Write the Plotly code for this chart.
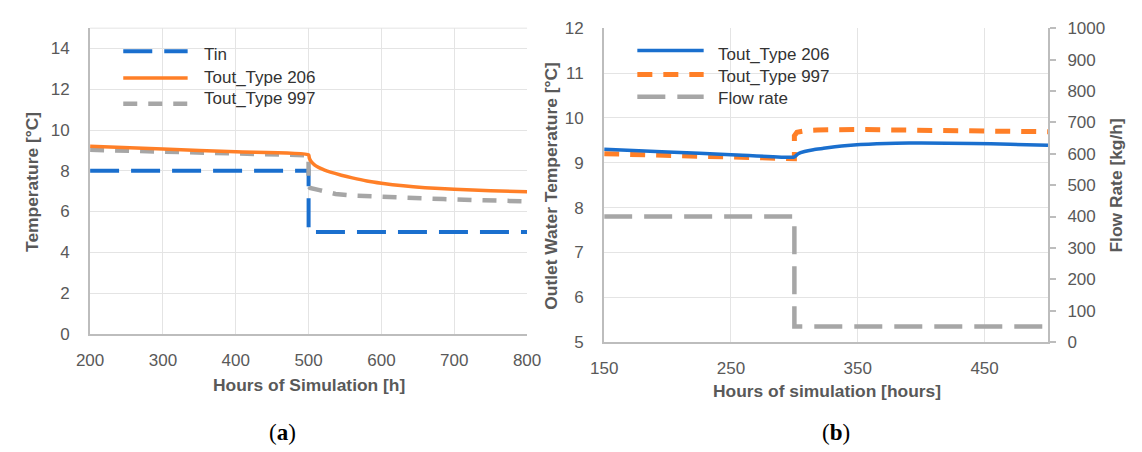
import plotly.graph_objects as go

W, H = 1142, 452

# ---------------- data (a) ----------------
a_tin_x = [200, 500, 500, 800]
a_tin_y = [8, 8, 5, 5]

a_206_x = [200, 300, 400, 500, 501, 503, 506, 510, 515, 522, 530, 545, 560, 580, 600, 630, 660, 700, 750, 800]
a_206_y = [9.2, 9.07, 8.93, 8.78, 8.62, 8.48, 8.36, 8.24, 8.14, 8.03, 7.93, 7.78, 7.65, 7.5, 7.39, 7.26, 7.17, 7.09, 7.02, 6.97]

a_997_x = [200, 300, 400, 500, 500, 502, 515, 525, 537, 560, 595, 640, 685, 740, 800]
a_997_y = [9.03, 8.94, 8.85, 8.76, 7.25, 7.16, 7.05, 6.95, 6.86, 6.78, 6.72, 6.66, 6.61, 6.55, 6.5]

# ---------------- data (b) ----------------
b_206_x = [150, 200, 250, 298, 300, 303, 308, 315, 323, 332, 342, 352, 365, 380, 400, 440, 470, 500]
b_206_y = [9.30, 9.24, 9.18, 9.12, 9.13, 9.2, 9.25, 9.29, 9.32, 9.355, 9.385, 9.405, 9.42, 9.435, 9.44, 9.43, 9.41, 9.39]

b_997_x = [150, 200, 250, 300, 300, 302, 310, 318, 350, 400, 470, 500]
b_997_y = [9.2, 9.16, 9.12, 9.09, 9.6, 9.68, 9.72, 9.73, 9.74, 9.73, 9.70, 9.69]

b_flow_x = [150, 300, 300, 500]
b_flow_y = [400, 400, 50, 50]

# ---------------- labels ----------------
a_legend = ["Tin", "Tout_Type 206", "Tout_Type 997"]
b_legend = ["Tout_Type 206", "Tout_Type 997", "Flow rate"]
a_xtitle = "Hours of Simulation [h]"
a_ytitle = "Temperature [°C]"
b_xtitle = "Hours of simulation [hours]"
b_ytitle = "Outlet Water Temperature [°C]"
b_y2title = "Flow Rate [kg/h]"

BLUE = "#1a6fce"
ORANGE = "#ff7f27"
GRAY = "#a6a6a6"
GRID = "#e4e4e4"
AXIS = "#bdbdbd"
TXT = "#595959"
FONT = "Liberation Sans, Arial, sans-serif"


def px(x):
    return x / W


def py(y):
    return 1 - y / H


fig = go.Figure()

a_styles = [
    dict(color=BLUE, width=4, dash="29px,12px"),
    dict(color=ORANGE, width=3.5, dash="solid"),
    dict(color=GRAY, width=4.5, dash="14px,11px"),
]
b_styles = [
    dict(color=BLUE, width=3.5, dash="solid"),
    dict(color=ORANGE, width=5, dash="15px,11px"),
    dict(color=GRAY, width=4.5, dash="28px,12px"),
]

fig.add_trace(go.Scatter(x=a_tin_x, y=a_tin_y, mode="lines", line=a_styles[0], xaxis="x", yaxis="y", name=a_legend[0]))
fig.add_trace(go.Scatter(x=a_997_x, y=a_997_y, mode="lines", line=a_styles[2], xaxis="x", yaxis="y", name=a_legend[2]))
fig.add_trace(go.Scatter(x=a_206_x, y=a_206_y, mode="lines", line=dict(**a_styles[1], shape="spline", smoothing=0.6),
                         xaxis="x", yaxis="y", name=a_legend[1]))

fig.add_trace(go.Scatter(x=b_flow_x, y=b_flow_y, mode="lines", line=b_styles[2], xaxis="x2", yaxis="y3", name=b_legend[2]))
fig.add_trace(go.Scatter(x=b_997_x, y=b_997_y, mode="lines", line=b_styles[1], xaxis="x2", yaxis="y2", name=b_legend[1]))
fig.add_trace(go.Scatter(x=b_206_x, y=b_206_y, mode="lines", line=dict(**b_styles[0], shape="spline", smoothing=0.6),
                         xaxis="x2", yaxis="y2", name=b_legend[0]))

tickfont = dict(family=FONT, size=17, color=TXT)
common = dict(showgrid=True, gridcolor=GRID, gridwidth=1, showline=True, linecolor=AXIS, linewidth=2,
              zeroline=False, ticks="", tickfont=tickfont, fixedrange=True)

fig.update_layout(
    width=W, height=H, margin=dict(l=0, r=0, t=0, b=0),
    paper_bgcolor="white", plot_bgcolor="white", showlegend=False,
    xaxis=dict(domain=[px(78), px(526)], range=[200, 800], tick0=200, dtick=100, anchor="y",
               ticklabelstandoff=10, **common),
    yaxis=dict(domain=[py(339), py(20)], range=[0, 15], tick0=0, dtick=2, anchor="x",
               ticklabelstandoff=15, **common),
    xaxis2=dict(domain=[px(605), px(1060)], range=[150, 500], tick0=150, dtick=100, anchor="y2",
                ticklabelstandoff=10, **common),
    yaxis2=dict(domain=[py(347.7), py(20)], range=[5, 12], tick0=5, dtick=1, anchor="x2",
                ticklabelstandoff=15, **common),
    yaxis3=dict(domain=[py(347.7), py(20)], range=[0, 1000], tick0=0, dtick=100, anchor="x2",
                overlaying="y2", side="right", showgrid=False, showline=True, linecolor=AXIS, linewidth=2,
                zeroline=False, ticks="outside", ticklen=6, tickwidth=2, tickcolor=AXIS,
                tickfont=tickfont, ticklabelstandoff=8, fixedrange=True),
)

shapes = []
# top border grid line of panel (a)
shapes.append(dict(type="line", xref="x domain", yref="y domain", x0=0, x1=1, y0=1, y1=1,
                   line=dict(color=GRID, width=1), layer="below"))
# legend backgrounds (hide grid lines)
shapes.append(dict(type="rect", xref="paper", yref="paper", x0=px(103), x1=px(525), y0=py(112), y1=py(33),
                   fillcolor="white", line=dict(width=0), layer="between"))
shapes.append(dict(type="rect", xref="paper", yref="paper", x0=px(628), x1=px(1059), y0=py(100), y1=py(32),
                   fillcolor="white", line=dict(width=0), layer="between"))

annotations = []
a_leg_line_y = [44, 72, 99]
a_leg_text_y = [48, 71, 93]
for st, ly, ty, name in zip(a_styles, a_leg_line_y, a_leg_text_y, a_legend):
    shapes.append(dict(type="line", xref="paper", yref="paper", x0=px(112), x1=px(178), y0=py(ly), y1=py(ly),
                       line=st, layer="above"))
    annotations.append(dict(text=name, x=px(193), y=py(ty), xref="paper", yref="paper", showarrow=False,
                            xanchor="left", yanchor="middle", font=dict(family=FONT, size=17, color="#333333")))

b_leg_line_y = [43.3, 68.3, 91.7]
b_leg_text_y = [47, 70, 93]
for st, ly, ty, name in zip(b_styles, b_leg_line_y, b_leg_text_y, b_legend):
    shapes.append(dict(type="line", xref="paper", yref="paper", x0=px(639), x1=px(707), y0=py(ly), y1=py(ly),
                       line=st, layer="above"))
    annotations.append(dict(text=name, x=px(720), y=py(ty), xref="paper", yref="paper", showarrow=False,
                            xanchor="left", yanchor="middle", font=dict(family=FONT, size=17, color="#333333")))

tfont = dict(family=FONT, size=17.4, color=TXT)


def title(text, x, y, angle=0):
    annotations.append(dict(text="<b>" + text + "</b>", x=px(x), y=py(y), xref="paper", yref="paper",
                            showarrow=False, xanchor="center", yanchor="middle", textangle=angle, font=tfont))


title(a_xtitle, 302, 392)
title(b_xtitle, 833, 399)
title(a_ytitle, 19, 181, -90)
title(b_ytitle, 551, 184, -90)
title(b_y2title, 1130, 184, -90)

cfont = dict(family="Liberation Serif, Times New Roman, serif", size=23, color="black")
annotations.append(dict(text="(<b>a</b>)", x=px(275), y=py(442), xref="paper", yref="paper", showarrow=False,
                        xanchor="center", yanchor="middle", font=cfont))
annotations.append(dict(text="(<b>b</b>)", x=px(843), y=py(442), xref="paper", yref="paper", showarrow=False,
                        xanchor="center", yanchor="middle", font=cfont))

fig.update_layout(shapes=shapes, annotations=annotations)

fig.write_html("out.html")
